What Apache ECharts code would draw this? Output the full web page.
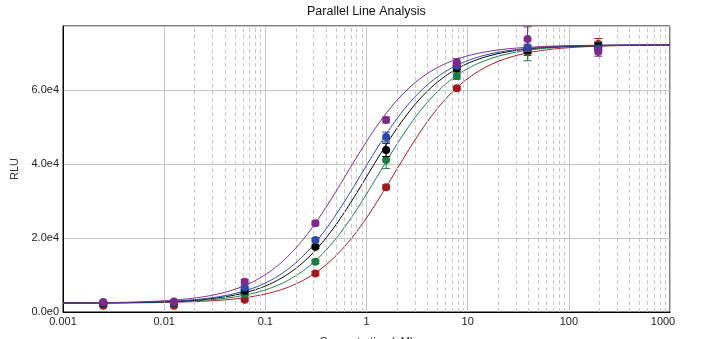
<!DOCTYPE html>
<html>
<head>
<meta charset="utf-8">
<script src="https://cdn.jsdelivr.net/npm/echarts@6/dist/echarts.min.js"></script>
<style>html,body{margin:0;padding:0;background:#fff;}#c{width:703px;height:339px;}</style>
</head>
<body>
<div id="c"></div>
<script>
// ---- data ----
const concentrations = [0.0025, 0.0125, 0.0625, 0.3125, 1.5625, 7.8125, 39.0625, 195.3125];
const seriesNames = ['Red', 'Green', 'Black', 'Blue', 'Purple'];
const redValues    = [1700, 1700, 3320, 10430, 33780, 60540, 70400, 72500];
const greenValues  = [2200, 2400, 4870, 13600, 41160, 63860, 70700, 72050];
const blackValues  = [2300, 2500, 5700, 17650, 43870, 65950, 71000, 71800];
const blueValues   = [2500, 2600, 6650, 19460, 47380, 66650, 71500, 71200];
const purpleValues = [2700, 2850, 8200, 24050, 51970, 67570, 73870, 70430];
const redErrors    = [200, 200, 300, 500, 600, 500, 1000, 1500];
const greenErrors  = [200, 200, 400, 500, 2300, 900, 2700, 1000];
const blackErrors  = [200, 200, 400, 500, 1800, 800, 1000, 1000];
const blueErrors   = [200, 200, 400, 500, 1300, 800, 1000, 1000];
const purpleErrors = [300, 300, 600, 600, 800, 1000, 3300, 1200];
// fitted parallel 4PL curve parameters (shared bottom/top/slope, per-series EC50)
const fitBottom = [2400];
const fitTop = [72300];
const fitHill = [1.13];
const fitEC50 = [1.87, 1.32, 1.04, 0.89, 0.635];
const xTickLabels = ['0.001', '0.01', '0.1', '1', '10', '100', '1000'];
const yTickLabels = ['0.0e0', '2.0e4', '4.0e4', '6.0e4'];

const colors = ['#a3191e', '#1c7a44', '#000000', '#2b4aa5', '#7d2a88'];
const values = [redValues, greenValues, blackValues, blueValues, purpleValues];
const errors = [redErrors, greenErrors, blackErrors, blueErrors, purpleErrors];

function fourPL(x, ec50) {
  return fitBottom[0] + (fitTop[0] - fitBottom[0]) / (1 + Math.pow(ec50 / x, fitHill[0]));
}
function curveData(ec50) {
  const out = [];
  for (let i = 0; i <= 300; i++) {
    const x = Math.pow(10, -3 + 6 * i / 300);
    out.push([x, fourPL(x, ec50)]);
  }
  return out;
}

const minorLines = [];
for (let d = -3; d < 3; d++) {
  for (let m = 2; m <= 9; m++) minorLines.push({ xAxis: m * Math.pow(10, d) });
}

const series = [];
series.push({
  type: 'line', data: [], silent: true, z: 1,
  markLine: {
    silent: true, symbol: 'none', label: { show: false },
    lineStyle: { color: '#c8c8c8', type: [4, 3], width: 1 },
    data: minorLines, animation: false
  }
});
colors.forEach((c, k) => {
  series.push({
    name: seriesNames[k] + ' fit', type: 'line', data: curveData(fitEC50[k]),
    showSymbol: false, lineStyle: { color: c, width: 1 }, z: 2 + k, silent: true
  });
});
colors.forEach((c, k) => {
  const d = concentrations.map((x, i) => [x, values[k][i], errors[k][i]]);
  series.push({
    name: seriesNames[k] + ' err', type: 'custom', data: d, z: 10 + k * 2,
    renderItem: function (params, api) {
      const x = api.value(0), v = api.value(1), e = api.value(2);
      const lo = api.coord([x, v - e]);
      const hi = api.coord([x, v + e]);
      const hw = 4;
      return {
        type: 'group',
        children: [
          { type: 'line', shape: { x1: lo[0], y1: lo[1], x2: hi[0], y2: hi[1] }, style: { stroke: c, lineWidth: 1 } },
          { type: 'line', shape: { x1: lo[0] - hw, y1: lo[1], x2: lo[0] + hw, y2: lo[1] }, style: { stroke: c, lineWidth: 1 } },
          { type: 'line', shape: { x1: hi[0] - hw, y1: hi[1], x2: hi[0] + hw, y2: hi[1] }, style: { stroke: c, lineWidth: 1 } }
        ]
      };
    },
    clip: true
  });
  series.push({
    name: seriesNames[k], type: 'scatter', data: d.map(p => [p[0], p[1]]),
    symbol: 'circle', symbolSize: 8, itemStyle: { color: c, opacity: 1 }, z: 11 + k * 2
  });
});

const chart = echarts.init(document.getElementById('c'), null, { renderer: 'canvas' });
chart.setOption({
  animation: false,
  backgroundColor: '#ffffff',
  textStyle: { fontFamily: 'Liberation Sans, Arial, sans-serif' },
  title: {
    text: 'Parallel Line Analysis', left: 302, top: 0,
    textStyle: { fontSize: 12.5, fontWeight: 'normal', color: '#111', fontFamily: 'Liberation Sans, Arial, sans-serif' }
  },
  grid: {
    left: 63, right: 33, top: 26, bottom: 27, show: true, borderColor: '#000', borderWidth: 1,
    backgroundColor: 'transparent', containLabel: false, outerBoundsMode: 'none'
  },
  xAxis: {
    type: 'log', logBase: 10, min: 0.001, max: 1000,
    name: 'Concentration (nM)', nameLocation: 'middle', nameGap: 24,
    nameTextStyle: { fontSize: 11, color: '#333', verticalAlign: 'top' },
    axisLine: { lineStyle: { color: '#000', width: 1 } },
    axisTick: { show: false },
    axisLabel: {
      fontSize: 11, color: '#222', margin: 4,
      formatter: v => {
        const i = Math.round(Math.log10(v)) + 3;
        return i === xTickLabels.length - 1 ? '{last|' + xTickLabels[i] + '}' : xTickLabels[i];
      },
      rich: { last: { fontSize: 11, color: '#222', padding: [0, 14, 0, 0] } }
    },
    splitLine: { show: true, lineStyle: { color: '#c4c4c4', width: 1 } }
  },
  yAxis: {
    type: 'value', min: 0, max: 77400, interval: 20000,
    name: 'RLU', nameLocation: 'middle', nameGap: 43, nameRotate: 90,
    nameTextStyle: { fontSize: 11, color: '#333' },
    axisLine: { show: true, lineStyle: { color: '#000', width: 1 } },
    axisTick: { show: false },
    axisLabel: {
      fontSize: 11, color: '#222', margin: 4, padding: [6, 0, 0, 0],
      formatter: v => yTickLabels[Math.round(v / 20000)]
    },
    splitLine: { show: true, lineStyle: { color: '#c4c4c4', width: 1 } }
  },
  series: series
});
</script>
</body>
</html>
